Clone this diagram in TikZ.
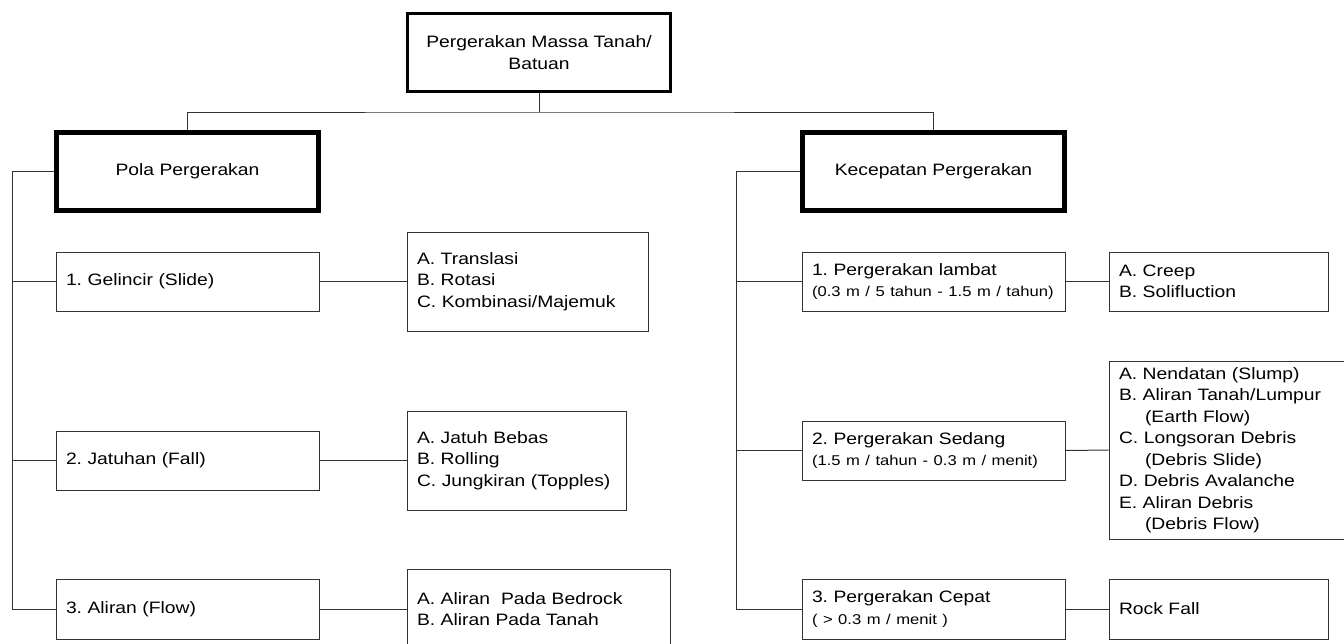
\documentclass[tikz,border=0pt]{standalone}
\usepackage{fontspec}
\setmainfont{Liberation Sans}[FakeStretch=1.17]
\usetikzlibrary{positioning, calc}
\definecolor{linecolor}{HTML}{333333}
\newcommand{\rate}[1]{\mbox{\fontsize{14.2}{18}\selectfont #1}}
\frenchspacing

\begin{document}
\begin{tikzpicture}
        [
          x=1pt, y=-1pt,
          every node/.style={font=\fontsize{16.5}{21.5}\selectfont, inner sep=0pt},
          rootbox/.style={draw, line width=2.6pt, minimum width=263pt, minimum height=78pt, align=center},
          headbox/.style={draw, line width=5pt, minimum width=262pt, minimum height=78pt, align=center},
          itembox/.style={draw=linecolor, line width=1pt, inner xsep=10pt, align=left},
          link/.style={draw=linecolor, line width=1pt}
        ]
        \useasboundingbox (0,0) rectangle (1344,643);

        % top levels
        \node[rootbox] (root) at (539,52.5) {Pergerakan Massa Tanah/\\Batuan};
        \node[headbox] (pola) at (187.5,171.5) {Pola Pergerakan};
        \node[headbox] (kec) at (933.5,171.5) {Kecepatan Pergerakan};

        \coordinate (split) at (539,112);
        \coordinate (ltrunk) at (12,171.5);
        \coordinate (rtrunk) at (736,171.5);

        % pola pergerakan
        \node[itembox, text width=243pt, minimum height=59pt] (gel) at (187.5,281.5) {1. Gelincir (Slide)};
        \node[itembox, text width=243pt, minimum height=59pt] (jat) at (187.5,460.5) {2. Jatuhan (Fall)};
        \node[itembox, text width=243pt, minimum height=60pt] (ali) at (187.5,609) {3. Aliran (Flow)};

        \node[itembox, text width=221pt, minimum height=99pt] (pgel) at (527.5,281.5)
          {A. Translasi\\B. Rotasi\\C. Kombinasi/Majemuk};
        \node[itembox, text width=199pt, minimum height=99pt] (pjat) at (516.5,460.5)
          {A. Jatuh Bebas\\B. Rolling\\C. Jungkiran (Topples)};
        \node[itembox, text width=243pt, minimum height=80pt] (pali) at (538.5,609)
          {A. Aliran\ \ Pada Bedrock\\B. Aliran Pada Tanah};

        % kecepatan pergerakan
        \node[itembox, text width=243pt, minimum height=59pt] (lam) at (933.5,281.5)
          {1. Pergerakan lambat\\\rate{(0.3 m / 5 tahun - 1.5 m / tahun)}};
        \node[itembox, text width=243pt, minimum height=59pt] (sed) at (933.5,450.5)
          {2. Pergerakan Sedang\\\rate{(1.5 m / tahun - 0.3 m / menit)}};
        \node[itembox, text width=243pt, minimum height=60pt] (cep) at (933.5,609)
          {3. Pergerakan Cepat\\\rate{( > 0.3 m / menit )}};

        \node[itembox, text width=199pt, minimum height=59pt] (plam) at (1218.5,281.5)
          {A. Creep\\B. Solifluction};
        \node[itembox, text width=231pt, minimum height=178pt] (psed) at (1234.5,450)
          {A. Nendatan (Slump)\\B. Aliran Tanah/Lumpur\\\hspace*{26pt}(Earth Flow)\\C. Longsoran Debris\\\hspace*{26pt}(Debris Slide)\\D. Debris Avalanche\\E. Aliran Debris\\\hspace*{26pt}(Debris Flow)};
        \node[itembox, text width=199pt, minimum height=60pt] (pcep) at (1218.5,609) {Rock Fall};

        % connectors
        \draw[link] (root) -- (split);
        \draw[link] (pola.north) |- (split) -| (kec.north);
        \draw[link] (pola.west) -- (ltrunk) |- (ali.west);
        \draw[link] (gel.west) -- (gel.west -| ltrunk);
        \draw[link] (jat.west) -- (jat.west -| ltrunk);
        \draw[link] (kec.west) -- (rtrunk) |- (cep.west);
        \draw[link] (lam.west) -- (lam.west -| rtrunk);
        \draw[link] (sed.west) -- (sed.west -| rtrunk);

        \path[link]
                  (gel) edge (pgel)
                  (jat) edge (pjat)
                  (ali) edge (pali)
                  (lam) edge (plam)
                  (sed) edge (psed)
                  (cep) edge (pcep);
\end{tikzpicture}
\end{document}
